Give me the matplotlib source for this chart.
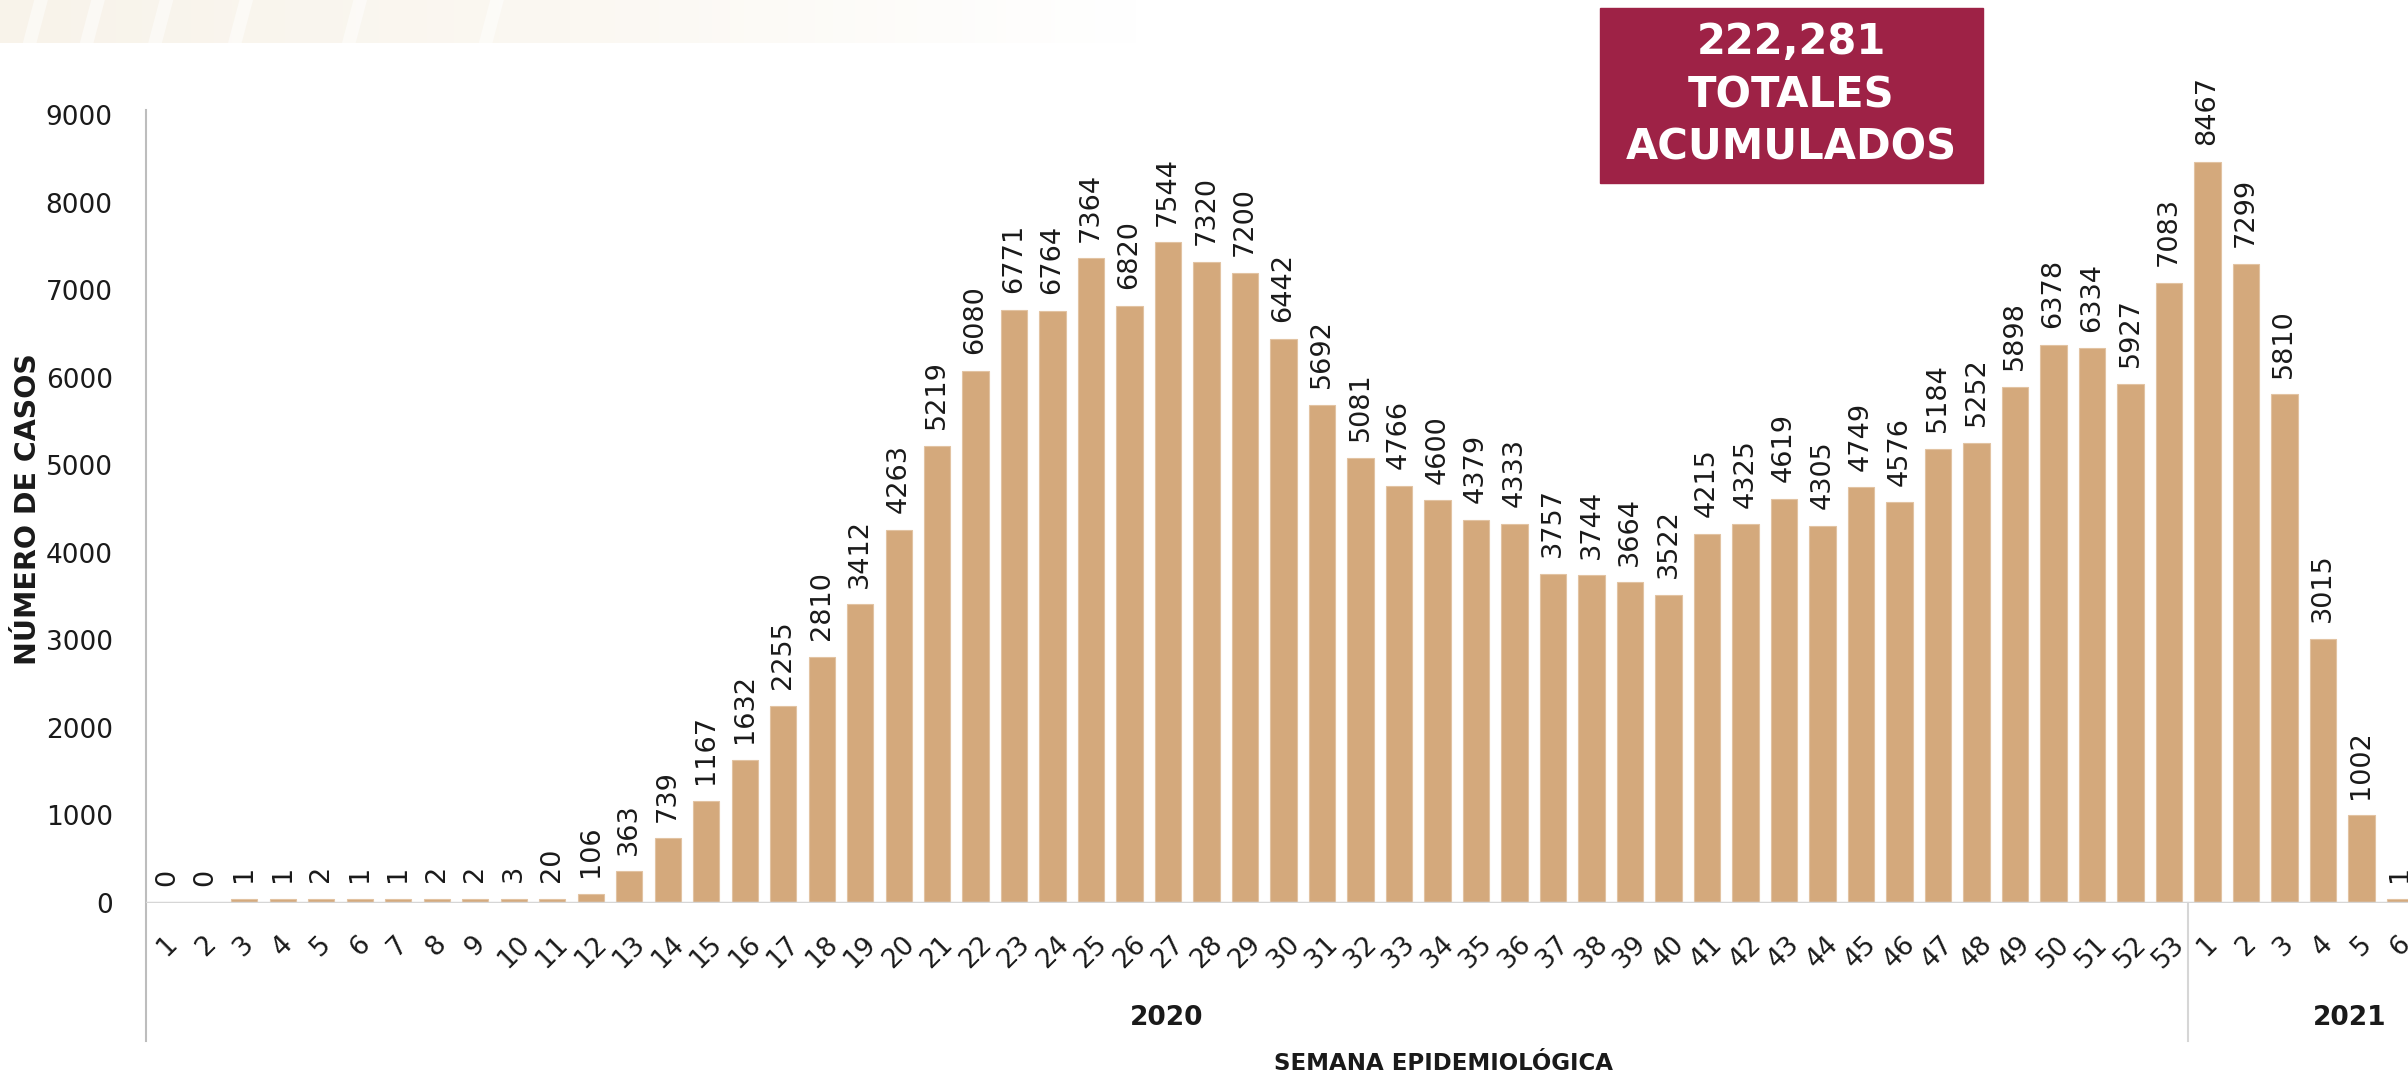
import numpy as np
import matplotlib
matplotlib.use("Agg")
import matplotlib.pyplot as plt
from matplotlib.patches import Rectangle
import matplotlib.transforms as mtransforms
from matplotlib.colors import LinearSegmentedColormap

# ---------------- data ----------------
weeks_2020 = [str(i) for i in range(1, 54)]
weeks_2021 = [str(i) for i in range(1, 7)]
cases_2020 = [0, 0, 1, 1, 2, 1, 1, 2, 2, 3, 20, 106, 363, 739, 1167, 1632, 2255,
              2810, 3412, 4263, 5219, 6080, 6771, 6764, 7364, 6820, 7544, 7320,
              7200, 6442, 5692, 5081, 4766, 4600, 4379, 4333, 3757, 3744, 3664,
              3522, 4215, 4325, 4619, 4305, 4749, 4576, 5184, 5252, 5898, 6378,
              6334, 5927, 7083]
cases_2021 = [8467, 7299, 5810, 3015, 1002, 1]
years = ["2020", "2021"]
y_ticks = [0, 1000, 2000, 3000, 4000, 5000, 6000, 7000, 8000, 9000]
total_text = ["222,281", "TOTALES", "ACUMULADOS"]
y_label = "NÚMERO DE CASOS"
x_label = "SEMANA EPIDEMIOLÓGICA"

labels = weeks_2020 + weeks_2021
values = np.array(cases_2020 + cases_2021, dtype=float)
x = np.arange(len(values))

BAR = "#D4A97C"
GUINDA = "#9E2246"
GRID = "#D6D6D6"
TXT = "#1a1a1a"

plt.rcParams["font.family"] = ["DejaVu Sans"]

W, H = 2408, 1079
fig = plt.figure(figsize=(W / 100, H / 100), dpi=100)
fig.patch.set_facecolor("white")

# faint decorative band at the top (fading to white)
bax = fig.add_axes([0, 1 - 43 / H, 1140 / W, 43 / H], zorder=0)
grad = np.linspace(0, 1, 256)[None, :]
cmap = LinearSegmentedColormap.from_list("fade", ["#F8F3EA", "#FBF8F2", "#FFFFFF"])
bax.imshow(grad, aspect="auto", cmap=cmap, extent=[0, 1, 0, 1])
for sx in [0.02, 0.07, 0.13, 0.2, 0.3, 0.42]:
    bax.fill([sx, sx + 0.012, sx + 0.022, sx + 0.01], [0, 0, 1, 1],
             color="white", alpha=0.5, lw=0)
bax.set_xlim(0, 1)
bax.set_ylim(0, 1)
bax.axis("off")

left = 146 / W
bottom = (H - 903) / H
top = (H - 115) / H
ax = fig.add_axes([left, bottom, 1 - left, top - bottom])

# tiny values still render as a thin visible bar
disp = np.where(values > 0, np.maximum(values, 50), 0)
ax.bar(x, disp, width=0.68, color=BAR, edgecolor="#E2C3A2", linewidth=0.8,
       zorder=2)

for xi, v, d in zip(x, values, disp):
    ax.annotate(f"{int(v)}", (xi, d), xytext=(0, 12), textcoords="offset points",
                rotation=90, ha="center", va="bottom", fontsize=19.5,
                color=TXT, annotation_clip=False)

ax.set_xlim(-0.55, len(values) - 1 + 0.21)
ax.set_ylim(0, 9000)
ax.set_yticks(y_ticks)
ax.set_yticklabels([str(t) for t in y_ticks], fontsize=19, color=TXT)
ax.set_xticks(x)
ax.set_xticklabels(labels, rotation=45, fontsize=19, color=TXT,
                   ha="center", va="top")
ax.tick_params(axis="both", length=0)
ax.tick_params(axis="y", pad=24)
ax.tick_params(axis="x", pad=20)
for s in ax.spines.values():
    s.set_visible(False)
ax.set_facecolor("none")

# baseline
ax.axhline(0, color=GRID, lw=2.5, zorder=3)
# left axis line (extended below)
ext = -(1041 - 903) / (903 - 115)
ax.plot([0, 0], [ext, 1.006], transform=ax.transAxes, color="#BDBDBD",
        lw=1.5, clip_on=False)
# year separator
sep = len(cases_2020) - 0.5
trans = mtransforms.blended_transform_factory(ax.transData, ax.transAxes)
ax.plot([sep, sep], [ext, 0], transform=trans, color=GRID, lw=1.5,
        clip_on=False)

# year labels
year_y = -(1018 - 903) / (903 - 115)
ax.text((-0.55 + sep) / 2, year_y, years[0], transform=trans, ha="center",
        va="center", fontsize=19, fontweight="bold", color=TXT)
fig.text(2350 / W, 1 - 1018 / H, years[1], ha="center", va="center",
         fontsize=19, fontweight="bold", color=TXT)

# axis titles
fig.text(1444 / W, 1 - 1063 / H, x_label, ha="center", va="center",
         fontsize=16.5, fontweight="bold", color=TXT)
fig.text(28 / W, 1 - 509 / H, y_label, ha="center", va="center",
         rotation=90, fontsize=20.5, fontweight="bold", color=TXT)

# total box
bx0, bx1, by0, by1 = 1600, 1983, 8, 183
fig.patches.append(Rectangle((bx0 / W, 1 - by1 / H), (bx1 - bx0) / W,
                             (by1 - by0) / H, transform=fig.transFigure,
                             color=GUINDA, zorder=5))
for t, yy in zip(total_text, [42, 96, 147]):
    fig.text((bx0 + bx1) / 2 / W, 1 - yy / H, t, ha="center", va="center",
             fontsize=30, fontweight="bold", color="white", zorder=6)

fig.savefig("out.png", dpi=100, facecolor="white")
